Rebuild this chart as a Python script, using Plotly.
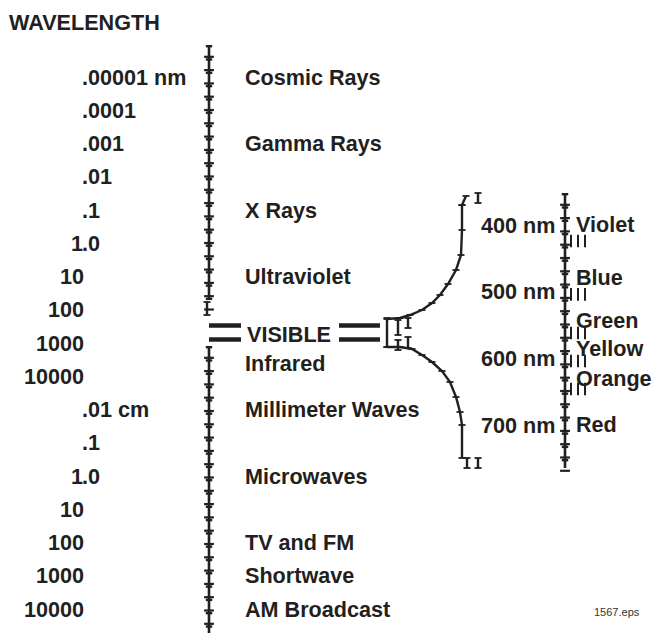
import numpy as np
import plotly.graph_objects as go

# ---------------- data ----------------
wavelength_labels = [".00001 nm", ".0001", ".001", ".01", ".1", "1.0", "10", "100", "1000", "10000",
                     ".01 cm", ".1", "1.0", "10", "100", "1000", "10000"]
wavelength_nm = [1e-5, 1e-4, 1e-3, 1e-2, 1e-1, 1e0, 1e1, 1e2, 1e3, 1e4,
                 1e5, 1e6, 1e7, 1e8, 1e9, 1e10, 1e11]

band_names = ["Cosmic Rays", "Gamma Rays", "X Rays", "Ultraviolet", "Infrared",
              "Millimeter Waves", "Microwaves", "TV and FM", "Shortwave", "AM Broadcast"]
band_nm = [1e-5, 1e-3, 1e-1, 1e1, 4000, 1e5, 1e7, 1e9, 1e10, 1e11]

visible_label = "VISIBLE"
visible_nm = 540

visible_tick_nm = [400, 500, 600, 700]
visible_tick_labels = ["400 nm", "500 nm", "600 nm", "700 nm"]

color_names = ["Violet", "Blue", "Green", "Yellow", "Orange", "Red"]
color_nm = [399, 478, 543, 585, 630, 699]
color_bounds_nm = [424, 504, 562, 604, 646]

title_text = "WAVELENGTH"
file_note = "1567.eps"

# ---------------- style ----------------
INK = "#231f20"
FONT = "Liberation Sans, Arial, Helvetica, sans-serif"
FS = 21.6
W, H = 655, 633

fig = go.Figure()

def chain_vertical(x, y0, y1, step=13.3):
    ys = np.arange(y0, y1 + 0.1, step)
    fig.add_trace(go.Scatter(x=[x, x], y=[y0, y1], mode="lines",
                             line=dict(color=INK, width=2.6),
                             xaxis="x", yaxis="y3", hoverinfo="skip", showlegend=False))
    fig.add_trace(go.Scatter(x=[x] * len(ys), y=list(ys + step - 1.5), mode="markers",
                             marker=dict(symbol="line-ew", size=7, line=dict(color=INK, width=2.2)),
                             xaxis="x", yaxis="y3", hoverinfo="skip", showlegend=False))
    dx, dy = [], []
    for yy in ys:
        dx += [x - 2, x + 2]
        dy += [yy + 1.2, yy + 1.2]
    fig.add_trace(go.Scatter(x=dx, y=dy, mode="markers",
                             marker=dict(symbol="square", size=2.4, color=INK, line=dict(width=0)),
                             xaxis="x", yaxis="y3", hoverinfo="skip", showlegend=False))

def polyline(xs, ys, width=2.4):
    fig.add_trace(go.Scatter(x=xs, y=ys, mode="lines+markers",
                             line=dict(color=INK, width=width),
                             marker=dict(symbol="line-ew", size=5, line=dict(color=INK, width=1.8)),
                             xaxis="x", yaxis="y3", hoverinfo="skip", showlegend=False))

# main spectrum line (upper and lower parts)
chain_vertical(209, 45, 300)
polyline([207, 207], [302, 315])
chain_vertical(209, 346, 640)

# "=" bars around VISIBLE
for xs in ([209, 241], [339, 380]):
    for yb in (325.5, 339.5):
        fig.add_trace(go.Scatter(x=xs, y=[yb, yb], mode="lines",
                                 line=dict(color=INK, width=4.5),
                                 xaxis="x", yaxis="y3", hoverinfo="skip", showlegend=False))

# fan to the visible detail
polyline([387, 387], [318, 347])
polyline([398, 398], [320, 335])
polyline([398, 398], [340, 350])
polyline([408, 408], [318, 328])
polyline([408, 408], [337, 348])
polyline([387, 400, 410, 422, 432, 440, 448, 456, 461, 462, 462],
         [319, 318, 315, 310, 303, 295, 284, 270, 255, 230, 205])
polyline([462, 466], [205, 196])
polyline([478, 478], [193, 203])
polyline([387, 400, 412, 422, 432, 442, 450, 456, 460, 462, 462],
         [347, 347, 349, 355, 362, 371, 382, 397, 412, 425, 458])
polyline([467, 467], [458, 468])
polyline([478, 478], [458, 468])

# visible detail line
chain_vertical(565, 193, 468)

# colour boundaries (short ticks right of visible line), on the nm axis
for b in color_bounds_nm:
    fig.add_trace(go.Scatter(x=[571, 578, 585], y=[b] * 3, mode="markers",
                             marker=dict(symbol="line-ns", size=9, line=dict(color=INK, width=2)),
                             xaxis="x", yaxis="y2", hoverinfo="skip", showlegend=False))

# ---------------- text ----------------
ann = []
def txt(x, y, s, yref, xanchor="left", size=FS, bold=True, color=INK):
    ann.append(dict(x=x, y=y, xref="x", yref=yref, text=("<b>%s</b>" % s) if bold else s,
                    showarrow=False, xanchor=xanchor, yanchor="middle",
                    borderpad=0, borderwidth=0,
                    font=dict(family=FONT, size=size, color=color)))

# wavelength scale labels, aligned on the decimal point
for lab, wl in zip(wavelength_labels, wavelength_nm):
    y = np.log10(wl)
    if lab.startswith("."):
        txt(82, y, lab, "y", "left")
    elif "." in lab:
        i = lab.index(".")
        txt(83, y, lab[:i], "y", "right")
        txt(82, y, lab[i:], "y", "left")
    else:
        txt(84, y, lab, "y", "right")

for name, wl in zip(band_names, band_nm):
    txt(245, np.log10(wl), name, "y", "left")
txt(247, np.log10(visible_nm), visible_label, "y", "left")

for lab, nm in zip(visible_tick_labels, visible_tick_nm):
    txt(555, nm, lab, "y2", "right")
for name, nm in zip(color_names, color_nm):
    txt(576, nm, name, "y2", "left")

txt(9, 22.5, title_text, "y3", "left")
txt(640, 612, file_note, "y3", "right", size=11, bold=False, color="#333333")

# ---------------- layout ----------------
# main axis: log wavelength (nm); one decade every 33.25 px, 1e-5 nm at y=77 px
def px_to_exp(py):
    return (py - 77) / 33.25 - 5

def px_to_vis(py):
    return 400 + (py - 225) * 1.5

fig.update_layout(
    width=W, height=H,
    margin=dict(l=0, r=0, t=0, b=0),
    paper_bgcolor="white", plot_bgcolor="white",
    showlegend=False,
    hovermode=False,
    xaxis=dict(range=[0, W], visible=False, fixedrange=True),
    yaxis=dict(type="log", range=[px_to_exp(H), px_to_exp(0)], visible=False, fixedrange=True),
    yaxis2=dict(range=[px_to_vis(H), px_to_vis(0)], overlaying="y", visible=False, fixedrange=True),
    yaxis3=dict(range=[H, 0], overlaying="y", visible=False, fixedrange=True),
    annotations=ann,
)
fig.add_trace(go.Scatter(x=[None], y=[1], xaxis="x", yaxis="y", showlegend=False))

fig.write_html("out.html",
               config={"displayModeBar": False, "staticPlot": True},
               post_script="document.body.style.margin='0';document.body.style.overflow='hidden';")
